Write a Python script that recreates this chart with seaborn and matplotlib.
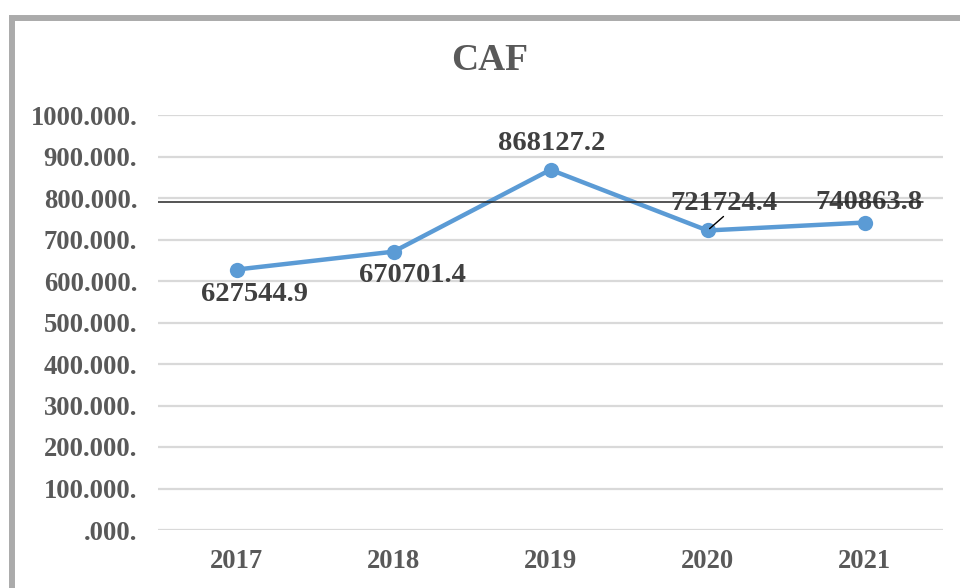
import matplotlib
matplotlib.use("Agg")
import matplotlib.pyplot as plt
from matplotlib.patches import Rectangle
import seaborn as sns
import pandas as pd

years = ["2017", "2018", "2019", "2020", "2021"]
values = [627544.9, 670701.4, 868127.2, 721724.4, 740863.8]
y_ticks = [0, 100, 200, 300, 400, 500, 600, 700, 800, 900, 1000]
y_tick_labels = [".000.", "100.000.", "200.000.", "300.000.", "400.000.", "500.000.",
                 "600.000.", "700.000.", "800.000.", "900.000.", "1000.000."]
ref_line = 791
title = "CAF"

sns.set_theme(style="white")
plt.rcParams["font.family"] = ["Liberation Serif", "DejaVu Serif"]

df = pd.DataFrame({"year": years, "value": [v / 1000 for v in values]})

fig = plt.figure(figsize=(9.6, 5.88), dpi=100)
ax = fig.add_axes([158 / 960, 1 - 530 / 588, 785 / 960, 415 / 588])

sns.lineplot(data=df, x="year", y="value", ax=ax, sort=False, color="#5B9BD5",
             linewidth=3.2, marker="o", markersize=11, markeredgewidth=0,
             clip_on=False, zorder=3)

ax.set_xlim(-0.5, 4.5)
ax.set_ylim(0, 1000)
ax.set_yticks(y_ticks)
ax.set_yticklabels(y_tick_labels)
ax.set_xlabel("")
ax.set_ylabel("")
for s in ax.spines.values():
    s.set_visible(False)
ax.grid(axis="y", color="#D9D9D9", linewidth=1.6)
ax.grid(axis="x", visible=False)
ax.set_axisbelow(True)
ax.tick_params(axis="y", length=0, pad=15, labelsize=19.2, labelcolor="#595959")
ax.tick_params(axis="x", length=0, pad=14, labelsize=19.2, labelcolor="#595959")
for lab in ax.get_xticklabels() + ax.get_yticklabels():
    lab.set_fontweight("bold")

fig.text(490 / 960, 1 - 61 / 588, title, ha="center", va="center", fontsize=27,
         fontweight="bold", color="#595959")

offsets = [(18, -25), (19, -24), (1, 26), (16, 27), (4, 20)]
for i, (v, off) in enumerate(zip(values, offsets)):
    ax.annotate(f"{v:.1f}", xy=(i, v / 1000), xytext=off, textcoords="offset pixels",
                ha="center", va="center", fontsize=20.5, fontweight="bold",
                color="#404040", zorder=4)

# leader line for 2020 label
ax.annotate("", xy=(3, values[3] / 1000), xytext=(16, 14), textcoords="offset pixels",
            arrowprops=dict(arrowstyle="-", color="black", lw=1, shrinkA=0, shrinkB=2))

ax.axhline(ref_line, xmin=0, xmax=(923 - 158) / 785, color="#262626", linewidth=1.1,
           zorder=5)

fig.patches.append(Rectangle((12 / 960, -0.2), 1.2, 1.2 - 18 / 588 + 0.0,
                             transform=fig.transFigure, fill=False,
                             edgecolor="#ABABAB", linewidth=4.3))

fig.savefig("out.png", dpi=100)
